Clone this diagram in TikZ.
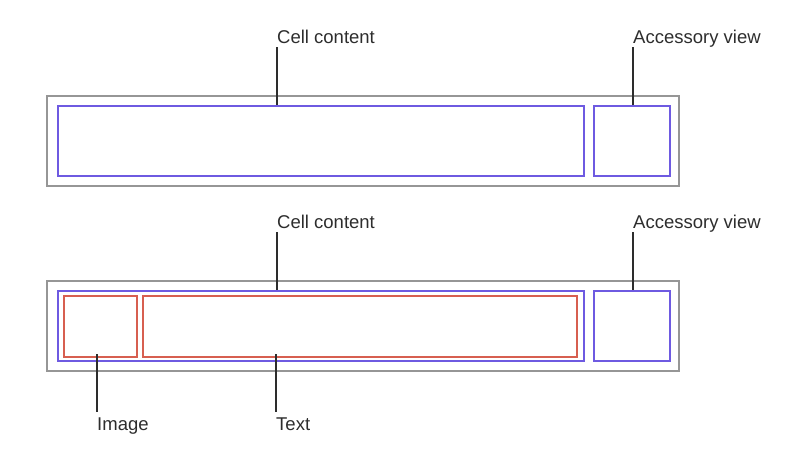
\documentclass[tikz,border=0pt]{standalone}
\usepackage{fontspec}
\setmainfont{Liberation Sans}
\usepackage{tikz}
\usepackage{xcolor}
\usetikzlibrary{positioning, calc}

\definecolor{framegray}{RGB}{150,150,150}
\definecolor{viewblue}{RGB}{110,90,225}
\definecolor{partred}{RGB}{215,95,80}
\definecolor{inkgray}{RGB}{45,45,45}

\tikzset{
    cellbox/.style={draw=framegray, line width=1.5pt, anchor=north west, inner sep=0pt, minimum width=632pt, minimum height=90pt},
    viewbox/.style={draw=viewblue, line width=1.8pt, anchor=north west, inner sep=0pt, minimum height=70pt},
    partbox/.style={draw=partred, line width=1.8pt, anchor=north west, inner sep=0pt, minimum height=61pt},
    callout/.style={anchor=base west, inner xsep=0pt, inner ysep=4pt, text height=14pt, text depth=0pt, text=inkgray, font=\fontsize{18.5}{22}\selectfont},
    leader/.style={draw=inkgray, line width=1.4pt}
}

\begin{document}
\begin{tikzpicture}[x=1pt, y=-1pt]
    \useasboundingbox (0,0) rectangle (808,448);
    % top row: cell content and accessory view
    \node[cellbox] (cell1) at (46, 95) {};
    \node[viewbox, minimum width=526pt] (content1) at (57, 105) {};
    \node[viewbox, minimum width=76pt] (acc1) at (593, 105) {};
    \node[callout] (contentlbl1) at (277, 43) {Cell content};
    \node[callout] (acclbl1) at (633, 43) {Accessory view};
    \draw[leader]
    (contentlbl1.south west) -- (contentlbl1.south west |- content1.north)
    (acclbl1.south west) -- (acclbl1.south west |- acc1.north);
    % bottom row: cell content split into image and text
    \node[cellbox] (cell2) at (46, 280) {};
    \node[viewbox, minimum width=526pt] (content2) at (57, 290) {};
    \node[viewbox, minimum width=76pt] (acc2) at (593, 290) {};
    \node[partbox, minimum width=73pt] (image) at (63, 295) {};
    \node[partbox, minimum width=434pt] (text) at (142, 295) {};
    \node[callout] (contentlbl2) at (277, 228) {Cell content};
    \node[callout] (acclbl2) at (633, 228) {Accessory view};
    \node[callout] (imagelbl) at (97, 430) {Image};
    \node[callout] (textlbl) at (276, 430) {Text};
    \draw[leader]
    (contentlbl2.south west) -- (contentlbl2.south west |- content2.north)
    (acclbl2.south west) -- (acclbl2.south west |- acc2.north)
    (imagelbl.north west) -- ([yshift=4pt]imagelbl.north west |- image.south)
    (textlbl.north west) -- ([yshift=4pt]textlbl.north west |- text.south);
\end{tikzpicture}
\end{document}
